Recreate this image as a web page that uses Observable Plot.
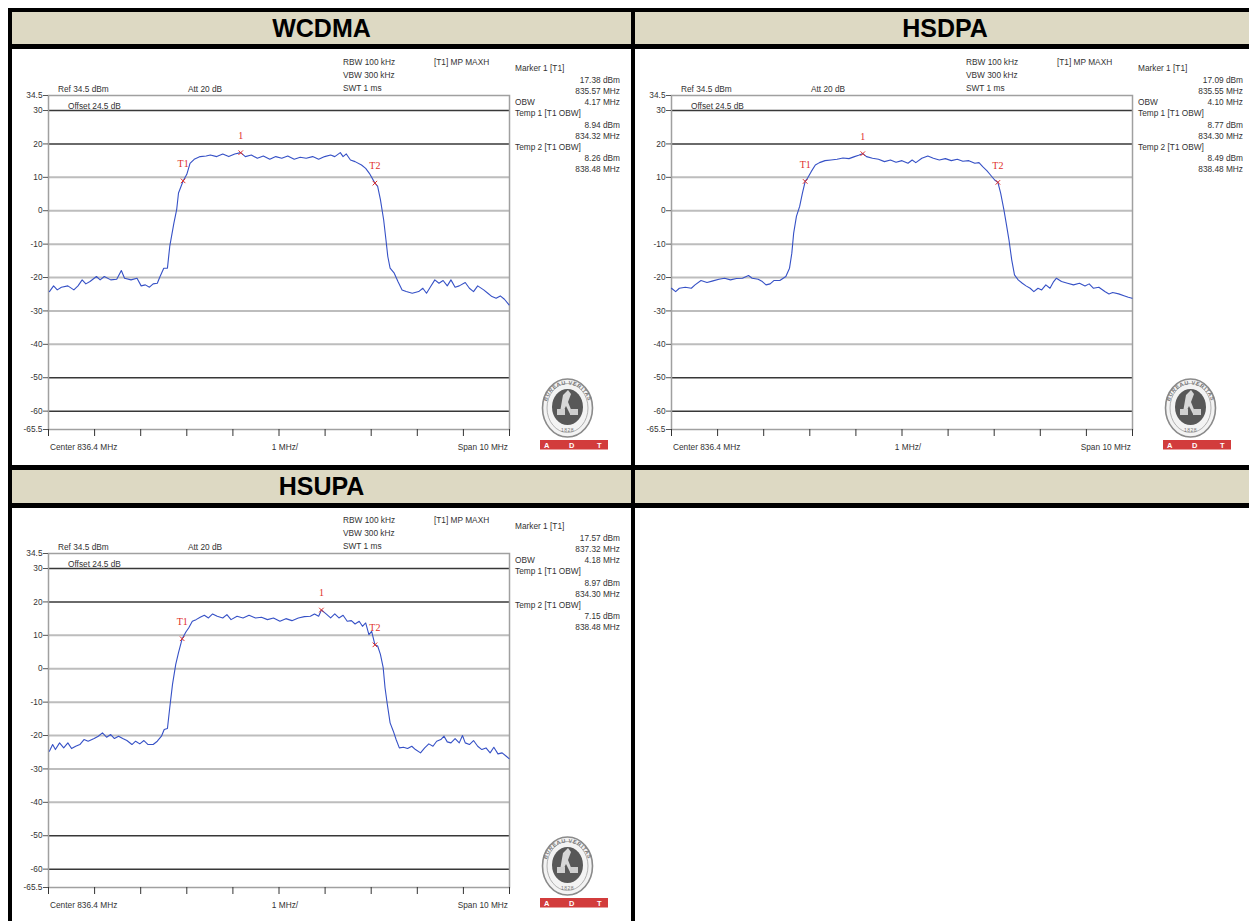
<!DOCTYPE html>
<html><head><meta charset="utf-8">
<script src="https://cdn.jsdelivr.net/npm/d3@7"></script>
<script src="https://cdn.jsdelivr.net/npm/@observablehq/plot@0.6"></script>
<style>
html,body{margin:0;padding:0;background:#fff;overflow:hidden;width:1249px;height:921px}
#root{position:relative;width:1249px;height:921px;overflow:hidden;font-family:"Liberation Sans",Arial,sans-serif}
.blk{position:absolute;background:#000}
.hdr{position:absolute;background:#DDD9C3;display:flex;align-items:center;justify-content:center;font-weight:bold;font-size:25px;color:#000}
.panel{position:absolute;background:#fff;overflow:hidden}
.t{position:absolute;font-size:8.3px;line-height:10px;color:#333;white-space:nowrap;transform:translateY(-50%)}
.r{transform:translate(-100%,-50%)}
.c{transform:translate(-50%,-50%)}
</style></head><body><div id="root"></div>
<script>
// ---------- data ----------
const panelNames = ["WCDMA", "HSDPA", "HSUPA"];
const yTicks = [34.5, 30, 20, 10, 0, -10, -20, -30, -40, -50, -60, -65.5];
const lightGrid = [10, 0, -10, -20, -30, -40];
const darkGrid = [30, 20, -50, -60];
const xTicks = [831.4, 832.4, 833.4, 834.4, 835.4, 836.4, 837.4, 838.4, 839.4, 840.4, 841.4];
const freqDomain = [831.4, 841.4];
const levelDomain = [-65.5, 34.5];

const marker1Level = [17.38, 17.09, 17.57];
const marker1Freq = [835.57, 835.55, 837.32];
const obwMHz = [4.17, 4.10, 4.18];
const temp1Level = [8.94, 8.77, 8.97];
const temp1Freq = [834.32, 834.30, 834.30];
const temp2Level = [8.26, 8.49, 7.15];
const temp2Freq = [838.48, 838.48, 838.48];

const wcdmaFreq = [831.42,831.51,831.59,831.68,831.82,831.95,832.04,832.13,832.21,832.30,832.44,832.52,832.61,832.75,832.88,832.98,833.05,833.19,833.32,833.41,833.50,833.59,833.67,833.76,833.82,833.90,833.98,834.03,834.12,834.18,834.22,834.32,834.40,834.47,834.56,834.69,834.82,834.91,835.05,835.18,835.31,835.44,835.57,835.67,835.80,835.93,836.06,836.20,836.33,836.46,836.59,836.73,836.86,836.99,837.13,837.26,837.39,837.52,837.61,837.73,837.79,837.86,837.95,838.05,838.19,838.28,838.36,838.48,838.54,838.60,838.67,838.72,838.76,838.81,838.90,838.98,839.07,839.16,839.29,839.43,839.52,839.60,839.69,839.78,839.87,839.96,840.05,840.13,840.22,840.31,840.44,840.53,840.62,840.71,840.84,840.93,841.02,841.11,841.20,841.29,841.39];
const wcdmaLevel = [-24.2,-22.5,-23.7,-22.9,-22.5,-23.7,-22.5,-20.7,-21.9,-21.2,-19.7,-20.7,-19.7,-20.7,-20.5,-17.9,-20.2,-20.7,-20.2,-22.5,-22.2,-22.9,-21.9,-21.7,-19.7,-17.2,-17.2,-10.7,-3.7,0.3,5.3,8.9,10.9,14.2,15.4,16.2,16.4,16.7,16.2,17.0,16.2,17.0,17.4,16.2,16.7,15.7,16.4,15.4,16.2,15.7,16.4,15.4,16.0,15.7,16.2,15.4,16.2,16.7,16.2,17.4,16.2,17.0,15.2,14.7,13.7,12.7,11.2,8.3,7.3,3.3,-2.7,-8.7,-13.7,-17.2,-18.7,-21.2,-23.7,-24.2,-24.7,-24.2,-23.2,-24.7,-22.7,-20.7,-21.7,-20.9,-22.5,-20.7,-22.9,-22.5,-21.5,-23.2,-24.2,-22.5,-23.7,-24.7,-25.7,-26.2,-25.5,-26.5,-28.2];

const hsdpaFreq = [831.40,831.49,831.57,831.70,831.83,831.91,832.04,832.17,832.30,832.43,832.55,832.68,832.81,832.94,833.07,833.15,833.28,833.37,833.45,833.54,833.62,833.75,833.88,833.96,834.01,834.05,834.11,834.18,834.24,834.30,834.35,834.43,834.52,834.61,834.73,834.86,834.99,835.12,835.25,835.37,835.46,835.55,835.63,835.76,835.89,836.02,836.15,836.27,836.40,836.53,836.62,836.70,836.83,836.96,837.08,837.21,837.34,837.47,837.60,837.72,837.85,837.98,838.07,838.15,838.24,838.32,838.41,838.48,838.54,838.61,838.66,838.72,838.78,838.84,838.92,839.01,839.09,839.18,839.26,839.35,839.43,839.52,839.61,839.69,839.75,839.86,839.99,840.12,840.25,840.37,840.46,840.55,840.67,840.80,840.89,840.97,841.10,841.23,841.31,841.39];
const hsdpaLevel = [-23.2,-24.2,-23.2,-22.9,-23.2,-22.2,-20.9,-21.5,-21.0,-20.5,-20.2,-20.7,-20.3,-20.2,-19.4,-20.2,-20.5,-21.2,-22.2,-21.9,-20.9,-20.9,-19.7,-17.2,-12.7,-6.7,-1.7,1.3,5.3,8.8,9.7,11.7,13.7,14.4,15.0,15.2,15.4,15.8,15.6,16.2,16.6,17.1,16.2,15.7,15.4,14.7,15.2,14.5,15.0,14.2,15.2,14.4,15.7,16.4,15.7,15.2,15.6,15.0,15.4,14.8,15.0,14.2,14.4,13.2,12.0,10.7,9.2,8.5,5.3,0.3,-3.7,-8.7,-14.7,-19.2,-20.7,-21.7,-22.5,-23.2,-24.2,-23.2,-23.7,-22.2,-23.2,-21.2,-20.2,-21.2,-21.7,-22.2,-21.7,-22.5,-21.9,-23.2,-22.9,-24.2,-24.9,-24.5,-24.9,-25.5,-25.9,-26.2];

const hsupaFreq = [831.42,831.49,831.55,831.64,831.73,831.82,831.90,831.99,832.08,832.17,832.26,832.39,832.48,832.57,832.66,832.75,832.83,832.92,833.01,833.10,833.21,833.29,833.38,833.47,833.56,833.67,833.76,833.85,833.91,833.98,834.03,834.09,834.16,834.22,834.30,834.38,834.44,834.52,834.60,834.69,834.78,834.87,834.96,835.06,835.18,835.27,835.36,835.49,835.62,835.75,835.89,836.02,836.15,836.28,836.42,836.55,836.68,836.82,836.95,837.08,837.17,837.26,837.32,837.44,837.52,837.61,837.70,837.79,837.88,837.97,838.05,838.14,838.21,838.28,838.35,838.41,838.48,838.54,838.60,838.66,838.70,838.75,838.81,838.88,838.94,839.01,839.10,839.19,839.28,839.36,839.47,839.56,839.65,839.74,839.82,839.91,839.98,840.05,840.13,840.22,840.31,840.38,840.44,840.53,840.62,840.71,840.80,840.89,840.98,841.06,841.15,841.24,841.33,841.39];
const hsupaLevel = [-24.7,-22.7,-24.2,-22.2,-23.7,-22.2,-23.9,-23.2,-22.7,-21.2,-21.7,-20.9,-20.2,-19.2,-20.5,-19.7,-20.9,-20.2,-20.9,-21.5,-22.7,-21.7,-22.5,-21.5,-22.7,-22.7,-21.7,-20.2,-18.2,-17.9,-11.7,-4.7,1.3,4.8,9.0,11.0,12.2,14.2,14.7,15.4,16.0,15.2,16.4,15.7,15.2,16.2,14.7,15.7,15.2,16.0,15.2,15.4,14.7,15.2,14.2,15.0,14.4,15.2,15.6,15.7,16.4,15.7,17.6,16.2,15.2,16.4,15.2,16.0,14.2,14.4,13.4,14.2,12.7,13.7,10.2,11.2,7.2,6.8,4.3,0.3,-5.7,-10.7,-16.2,-18.7,-21.2,-23.7,-23.5,-23.9,-23.2,-24.2,-25.2,-23.7,-22.5,-23.2,-21.7,-21.2,-20.2,-21.9,-22.2,-20.9,-22.2,-20.0,-22.2,-22.7,-21.5,-23.2,-24.2,-23.7,-25.2,-23.5,-25.5,-25.2,-26.2,-26.9];

const traceFreqs = [wcdmaFreq, hsdpaFreq, hsupaFreq];
const traceLevels = [wcdmaLevel, hsdpaLevel, hsupaLevel];

// ---------- layout ----------
const root = document.getElementById("root");
function box(cls, l, t, w, h, html) {
  const d = document.createElement("div");
  d.className = cls;
  Object.assign(d.style, {left: l + "px", top: t + "px", width: w + "px", height: h + "px"});
  if (html != null) d.innerHTML = html;
  root.appendChild(d);
  return d;
}
// headers
box("hdr", 12, 12, 619, 32, panelNames[0]);
box("hdr", 635, 12, 620, 32, panelNames[1]);
box("hdr", 12, 470, 619, 33, panelNames[2]);
box("hdr", 635, 470, 620, 33, "");
// borders
box("blk", 8, 8, 1250, 4);
box("blk", 8, 8, 4, 913);
box("blk", 631, 8, 4, 913);
box("blk", 8, 44, 1250, 5);
box("blk", 8, 465, 1250, 5);
box("blk", 8, 503, 1250, 5);

function txt(parent, s, x, y, cls) {
  const d = document.createElement("div");
  d.className = "t" + (cls ? " " + cls : "");
  d.style.left = x + "px";
  d.style.top = y + "px";
  d.textContent = s;
  parent.appendChild(d);
}

function logo(parent, l, t) {
  const ns = "http://www.w3.org/2000/svg";
  const wrap = document.createElement("div");
  Object.assign(wrap.style, {position: "absolute", left: l + "px", top: t + "px"});
  wrap.innerHTML = `<svg width="90" height="78" xmlns="${ns}">
    <defs><path id="arc${l}${t}" d="M19,31 A21.5,23.5 0 0 1 62,31"/></defs>
    <ellipse cx="40.5" cy="31" rx="25" ry="29" fill="#f3f3f3" stroke="#8a8a8a" stroke-width="1.6"/>
    <ellipse cx="40.5" cy="31" rx="20.5" ry="24.5" fill="none" stroke="#a0a0a0" stroke-width="0.8"/>
    <text font-size="5.5" font-family="Liberation Sans,Arial" font-weight="bold" fill="#777" letter-spacing="0.6"><textPath href="#arc${l}${t}" startOffset="50%" text-anchor="middle">BUREAU VERITAS</textPath></text>
    <ellipse cx="40.5" cy="30" rx="15.5" ry="18" fill="#585858"/>
    <path d="M36,18 l5,-5 l3,4 l-3,8 l4,10 l-2,2 l-4,-8 l-4,8 l-2,-2 z" fill="#d8d8d8"/>
    <rect x="30" y="32" width="8" height="6" fill="#cfcfcf"/><rect x="43" y="32" width="8" height="6" fill="#cfcfcf"/>
    <text x="40.5" y="55" font-size="5" text-anchor="middle" font-family="Liberation Sans,Arial" fill="#777" letter-spacing="0.5">1828</text>
    <rect x="13" y="63" width="68" height="9.5" fill="#d23c3c"/>
    <text x="17" y="70.5" font-size="7.5" font-weight="bold" font-family="Liberation Sans,Arial" fill="#fff">A</text>
    <text x="42" y="70.5" font-size="7.5" font-weight="bold" font-family="Liberation Sans,Arial" fill="#fff">D</text>
    <text x="70" y="70.5" font-size="7.5" font-weight="bold" font-family="Liberation Sans,Arial" fill="#fff">T</text>
  </svg>`;
  parent.appendChild(wrap);
}

function makePanel(i, left, top, width, height, mt) {
  const p = box("panel", left, top, width, height);
  const plotH = 334;
  const mb = height - mt - plotH;
  const frameW = 461;
  const trace = traceFreqs[i].map((f, k) => ({f, v: traceLevels[i][k]}));
  const markers = [
    {f: marker1Freq[i], v: marker1Level[i], label: "1"},
    {f: temp1Freq[i], v: temp1Level[i], label: "T1"},
    {f: temp2Freq[i], v: temp2Level[i], label: "T2"}
  ];
  const chart = Plot.plot({
    width, height,
    marginLeft: 36, marginRight: width - 36 - frameW, marginTop: mt, marginBottom: mb,
    x: {domain: freqDomain},
    y: {domain: levelDomain},
    style: {fontFamily: "Liberation Sans, Arial, sans-serif", fontSize: "8.3px", background: "transparent", color: "#333", overflow: "visible"},
    marks: [
      Plot.ruleY(lightGrid, {stroke: "#bdbdbd", strokeWidth: 2}),
      Plot.ruleY(darkGrid, {stroke: "#383838", strokeWidth: 1.5}),
      Plot.frame({stroke: "#a0a0a0", strokeWidth: 1.5}),
      Plot.axisY({ticks: yTicks, label: null, tickSize: 5, tickPadding: 1, tickFormat: d => String(d), stroke: "#555", fill: "#333"}),
      Plot.axisX({ticks: xTicks, label: null, tickSize: 7, tickFormat: () => "", stroke: "#333"}),
      Plot.line(trace, {x: "f", y: "v", stroke: "#3651c6", strokeWidth: 1.1}),
      Plot.dot(markers, {x: "f", y: "v", symbol: "times", r: 2.2, stroke: "#e0302a", strokeWidth: 1}),
      Plot.text(markers, {x: "f", y: "v", text: "label", dy: -17, fill: "#e0302a", fontFamily: "Liberation Serif, serif", fontSize: 10})
    ]
  });
  chart.style.position = "absolute";
  chart.style.left = "0px";
  chart.style.top = "0px";
  p.appendChild(chart);

  const ft = mt, fb = mt + plotH;
  txt(p, "RBW 100 kHz", 331, ft - 33);
  txt(p, "VBW 300 kHz", 331, ft - 20);
  txt(p, "SWT 1 ms", 331, ft - 7);
  txt(p, "[T1] MP MAXH", 422, ft - 33);
  txt(p, "Ref 34.5 dBm", 46, ft - 6);
  txt(p, "Att  20 dB", 176, ft - 6);
  txt(p, "Offset 24.5 dB", 56, ft + 11);
  txt(p, "Marker 1 [T1]", 503, ft - 27);
  txt(p, marker1Level[i].toFixed(2) + " dBm", 608, ft - 15, "r");
  txt(p, marker1Freq[i].toFixed(2) + " MHz", 608, ft - 4, "r");
  txt(p, "OBW", 503, ft + 7);
  txt(p, obwMHz[i].toFixed(2) + " MHz", 608, ft + 7, "r");
  txt(p, "Temp 1 [T1 OBW]", 503, ft + 18);
  txt(p, temp1Level[i].toFixed(2) + " dBm", 608, ft + 30, "r");
  txt(p, temp1Freq[i].toFixed(2) + " MHz", 608, ft + 41, "r");
  txt(p, "Temp 2 [T1 OBW]", 503, ft + 52);
  txt(p, temp2Level[i].toFixed(2) + " dBm", 608, ft + 63, "r");
  txt(p, temp2Freq[i].toFixed(2) + " MHz", 608, ft + 74, "r");
  txt(p, "Center 836.4 MHz", 38, fb + 18);
  txt(p, "1 MHz/", 273, fb + 18, "c");
  txt(p, "Span 10 MHz", 496, fb + 18, "r");
  logo(p, 515, fb - 52);
}

makePanel(0, 12, 49, 619, 416, 46);
makePanel(1, 635, 49, 620, 416, 46);
makePanel(2, 12, 508, 619, 413, 45);
</script></body></html>
